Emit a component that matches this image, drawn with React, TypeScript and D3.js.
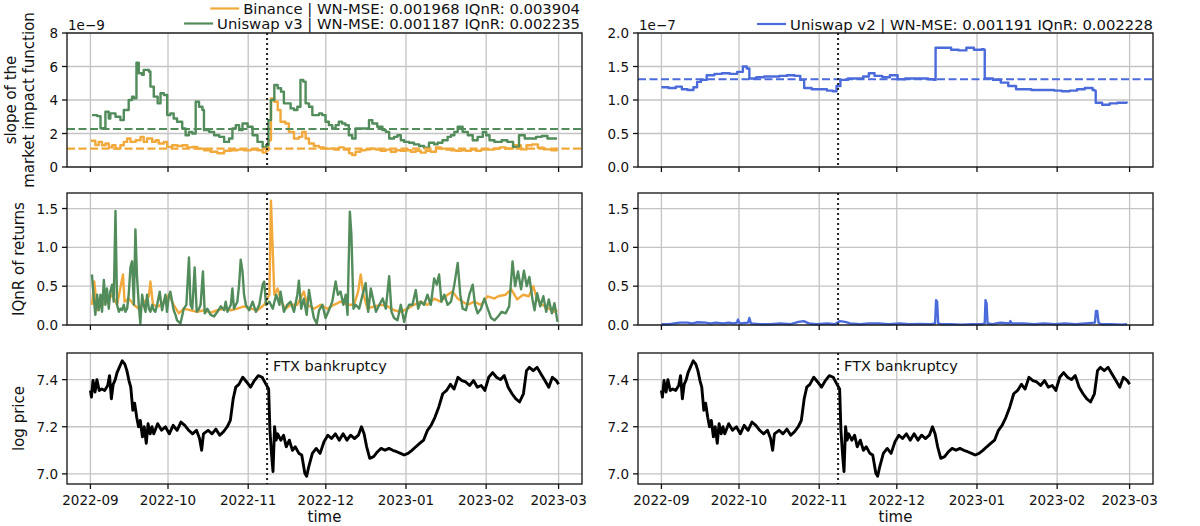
import React, { useEffect, useRef } from "react";
import * as d3 from "d3";

// ---------------- data (day offsets from 2022-09-01, values) ----------------
const START = Date.UTC(2022, 8, 1);
const DAY = 86400000;
const monthTicks = ["2022-09", "2022-10", "2022-11", "2022-12", "2023-01", "2023-02", "2023-03"];
const ftxDay = 68.3;
const ftxLabel = "FTX bankruptcy";

const binanceLabel = "Binance | WN-MSE: 0.001968 IQnR: 0.003904";
const uniV3Label = "Uniswap v3 | WN-MSE: 0.001187 IQnR: 0.002235";
const uniV2Label = "Uniswap v2 | WN-MSE: 0.001191 IQnR: 0.002228";

const binanceMean = 1.1; // 1e-9
const uniV3Mean = 2.27; // 1e-9
const uniV2Mean = 1.31; // 1e-7

const slopeTicksLeft = [0, 2, 4, 6, 8];
const slopeTicksRight = [0, 0.5, 1.0, 1.5, 2.0];
const iqnrTicks = [0, 0.5, 1.0, 1.5];
const priceTicks = [7.0, 7.2, 7.4];

const uniV3Slope: [number, number][] = [
  [0.6, 3.1], [2.6, 3.04], [3.9, 2.31], [5.2, 2.3], [5.8, 3.3], [7.1, 2.9], [7.7, 3.2], [9.7, 3.0], [11.6, 2.8], [12.9, 3.4],
  [14.8, 4.0], [16.1, 4.2], [16.8, 4.1], [17.8, 6.23], [18.7, 5.6], [20.0, 5.5], [20.6, 5.8], [22.6, 5.7], [23.2, 4.8], [24.5, 4.2],
  [26.0, 3.8], [27.1, 4.4], [28.4, 4.3], [29.7, 3.1], [30.9, 3.2], [32.2, 2.9], [33.5, 2.7], [35.5, 2.3], [36.8, 1.9], [38.1, 2.1],
  [39.4, 2.0], [40.7, 3.9], [42.0, 3.6], [43.3, 3.4], [43.9, 2.2], [45.9, 2.1], [47.8, 1.9], [49.8, 1.8], [51.7, 1.5], [53.6, 1.7],
  [54.9, 2.3], [56.2, 2.5], [57.5, 2.2], [58.8, 2.6], [60.8, 2.4], [62.7, 1.9], [64.6, 1.5], [66.6, 1.17], [67.9, 1.3], [68.8, 2.8],
  [69.8, 4.0], [71.1, 4.9], [72.4, 4.7], [73.7, 4.5], [74.8, 3.8], [76.1, 3.8], [77.4, 3.5], [78.7, 3.4], [80.0, 3.6], [81.2, 5.2],
  [82.3, 5.1], [83.2, 3.8], [84.5, 3.6], [85.8, 3.1], [87.1, 3.1], [88.4, 3.2], [89.6, 3.1], [90.9, 2.7], [92.2, 2.5], [93.5, 2.3],
  [94.8, 2.5], [96.0, 2.7], [97.3, 2.6], [98.6, 2.5], [99.9, 1.9], [101.2, 1.7], [102.5, 2.3], [104.4, 2.3], [106.4, 2.3], [107.7, 2.8],
  [109.0, 2.6], [110.9, 2.4], [112.9, 2.2], [114.2, 2.1], [115.5, 1.7], [117.4, 1.8], [118.7, 1.9], [120.0, 1.6], [121.3, 1.5], [123.2, 1.45],
  [125.1, 1.35], [127.1, 1.25], [129.0, 1.15], [130.9, 1.45], [132.9, 1.35], [134.2, 1.45], [136.1, 1.6], [138.1, 1.8], [139.4, 1.9], [140.7, 2.1],
  [142.0, 2.4], [143.9, 2.1], [145.9, 1.9], [147.8, 1.6], [149.7, 1.8], [151.7, 2.1], [153.0, 1.9], [154.3, 1.6], [156.2, 1.5], [158.2, 1.5],
  [159.0, 1.6], [161.2, 1.5], [163.4, 1.2], [165.7, 1.9], [167.9, 1.7], [170.1, 1.7], [172.3, 1.8], [174.5, 1.85], [176.7, 1.7], [179.6, 1.7],
  [180.4, 1.7],
];

const binanceSlope: [number, number][] = [
  [0.2, 1.57], [1.9, 1.31], [3.2, 1.5], [4.5, 1.3], [5.8, 1.4], [7.1, 1.17], [8.4, 1.3], [9.7, 1.1], [11.6, 1.3], [12.9, 1.5],
  [14.2, 1.7], [15.5, 1.5], [17.5, 1.6], [19.4, 1.8], [20.6, 1.5], [21.9, 1.7], [23.9, 1.5], [25.2, 1.6], [26.4, 1.4], [28.4, 1.5],
  [29.7, 1.2], [31.6, 1.3], [33.6, 1.25], [35.5, 1.3], [37.5, 1.17], [39.4, 1.2], [41.3, 1.1], [43.9, 1.0], [46.5, 0.91], [49.1, 0.82],
  [51.7, 0.97], [54.3, 1.0], [56.8, 1.04], [59.4, 1.0], [62.0, 1.04], [64.6, 1.0], [66.6, 0.86], [67.9, 1.0], [68.8, 1.6], [69.8, 4.1],
  [71.1, 3.9], [72.4, 3.4], [73.5, 2.7], [75.4, 2.6], [76.7, 2.1], [78.7, 1.7], [80.6, 1.8], [81.9, 2.1], [83.2, 1.7], [84.5, 1.4],
  [86.4, 1.25], [88.4, 1.17], [90.3, 1.1], [92.2, 1.1], [94.2, 1.04], [96.1, 1.17], [98.0, 1.04], [100.0, 0.82], [101.2, 0.72], [102.5, 0.91],
  [104.4, 1.0], [106.4, 1.04], [108.3, 1.1], [110.3, 1.04], [112.2, 0.97], [114.2, 1.04], [116.1, 0.91], [118.1, 1.0], [120.0, 0.97], [121.9, 1.0],
  [123.9, 0.91], [125.8, 0.97], [127.7, 0.86], [129.7, 0.97], [131.6, 0.91], [133.6, 1.17], [135.5, 1.1], [137.5, 1.04], [139.4, 1.0], [141.3, 0.97],
  [143.3, 1.0], [145.2, 0.97], [147.2, 1.04], [149.1, 0.97], [151.0, 1.04], [153.6, 1.04], [156.2, 1.1], [158.2, 1.17], [160.5, 1.1], [163.4, 1.3],
  [166.4, 1.05], [168.6, 1.3], [170.8, 1.35], [173.0, 1.15], [175.3, 1.05], [178.2, 1.0], [180.4, 0.95],
];

const uniV2Slope: [number, number][] = [
  [0, 1.19], [2.7, 1.18], [5.6, 1.2], [7.9, 1.16], [10.1, 1.15], [12.4, 1.19], [13.8, 1.27], [15.3, 1.3], [17.5, 1.37], [20.5, 1.39],
  [23.4, 1.4], [26.4, 1.39], [29.3, 1.42], [31.5, 1.5], [33.0, 1.47], [34.0, 1.32], [36.7, 1.34], [39.7, 1.35], [42.6, 1.35], [45.6, 1.36],
  [48.5, 1.37], [51.5, 1.36], [53.7, 1.3], [55.2, 1.18], [58.1, 1.16], [61.1, 1.16], [64.0, 1.14], [66.2, 1.13], [67.7, 1.21], [69.2, 1.3],
  [72.1, 1.32], [75.1, 1.32], [78.0, 1.35], [80.2, 1.4], [82.4, 1.36], [85.4, 1.34], [88.3, 1.37], [91.3, 1.31], [94.2, 1.32], [97.2, 1.32],
  [100.1, 1.32], [103.1, 1.31], [105.3, 1.3], [106.0, 1.78], [109.0, 1.78], [112.0, 1.75], [114.9, 1.74], [117.9, 1.78], [120.8, 1.75], [123.8, 1.76],
  [124.6, 1.75], [125.0, 1.32], [128.2, 1.3], [131.2, 1.26], [134.1, 1.21], [137.1, 1.16], [140.0, 1.16], [143.0, 1.15], [145.9, 1.15], [148.9, 1.15],
  [151.9, 1.14], [154.8, 1.13], [157.8, 1.14], [160.7, 1.16], [163.7, 1.18], [166.7, 1.15], [167.5, 1.14], [167.9, 0.96], [170.4, 0.93], [173.3, 0.95],
  [176.3, 0.96], [180.0, 0.95],
];

const uniV3Iqnr: [number, number][] = [
  [0.6, 0.65], [1.3, 0.35], [1.9, 0.13], [2.6, 0.39], [3.2, 0.19], [3.9, 0.39], [4.5, 0.17], [5.2, 0.58], [5.8, 0.26], [6.4, 0.47],
  [7.1, 0.21], [7.7, 0.43], [8.4, 0.52], [9.0, 0.3], [9.7, 1.47], [10.3, 0.26], [11.0, 0.17], [11.6, 0.21], [12.2, 0.19], [12.9, 0.26],
  [13.5, 0.17], [14.2, 0.21], [14.8, 0.39], [15.5, 0.75], [16.1, 0.82], [16.8, 0.26], [17.4, 1.23], [18.0, 0.63], [18.7, 0.26], [19.3, 0.02],
  [20.0, 0.39], [20.6, 0.26], [21.3, 0.17], [21.9, 0.39], [22.6, 0.21], [23.2, 0.17], [23.9, 0.26], [24.5, 0.19], [25.1, 0.17], [25.8, 0.26],
  [26.8, 0.43], [27.7, 0.19], [29.0, 0.39], [29.6, 0.17], [30.3, 0.37], [30.9, 0.43], [31.6, 0.3], [32.2, 0.19], [32.9, 0.13], [33.5, 0.06],
  [34.8, 0.02], [36.1, 0.21], [37.1, 0.26], [38.1, 0.87], [38.7, 0.26], [39.4, 0.21], [40.3, 0.74], [41.1, 0.17], [42.0, 0.21], [42.6, 0.26],
  [43.5, 0.69], [44.2, 0.15], [45.2, 0.21], [46.5, 0.13], [47.8, 0.11], [49.1, 0.17], [50.4, 0.24], [51.7, 0.19], [52.3, 0.3], [53.0, 0.17],
  [54.3, 0.26], [54.9, 0.47], [55.5, 0.21], [56.8, 0.3], [57.5, 0.52], [58.1, 0.84], [58.8, 0.69], [59.4, 0.39], [60.1, 0.26], [61.4, 0.19],
  [62.7, 0.3], [64.0, 0.17], [65.3, 0.26], [66.6, 0.52], [67.2, 0.56], [67.9, 0.26], [69.2, 0.3], [70.5, 0.21], [71.8, 0.39], [73.1, 0.26],
  [73.5, 0.43], [74.8, 0.17], [76.1, 0.26], [77.4, 0.3], [78.7, 0.17], [80.0, 0.39], [80.6, 0.57], [81.5, 0.21], [82.5, 0.34], [83.6, 0.13],
  [84.5, 0.45], [85.4, 0.26], [86.4, 0.09], [87.5, 0.02], [88.4, 0.19], [89.7, 0.26], [90.9, 0.09], [92.2, 0.19], [93.5, 0.3], [94.8, 0.56],
  [95.7, 0.39], [96.7, 0.43], [97.8, 0.26], [98.7, 0.39], [99.4, 0.13], [100.3, 1.46], [100.9, 1.16], [101.7, 0.21], [102.6, 0.26], [103.9, 0.21],
  [105.2, 0.39], [106.4, 0.54], [107.4, 0.17], [108.4, 0.47], [109.5, 0.3], [110.4, 0.17], [111.7, 0.26], [113.0, 0.34], [114.2, 0.21], [115.5, 0.63],
  [116.4, 0.17], [117.4, 0.09], [118.7, 0.06], [120.0, 0.26], [121.3, 0.04], [122.3, 0.19], [123.2, 0.26], [124.5, 0.26], [125.8, 0.45], [126.7, 0.21],
  [127.7, 0.3], [129.0, 0.26], [130.3, 0.39], [131.6, 0.26], [132.9, 0.6], [133.9, 0.52], [134.8, 0.65], [135.7, 0.3], [136.8, 0.39], [138.1, 0.26],
  [139.4, 0.3], [140.7, 0.52], [142.0, 0.8], [143.0, 0.39], [143.9, 0.21], [145.2, 0.19], [146.5, 0.39], [147.8, 0.52], [148.7, 0.26], [149.7, 0.15],
  [151.0, 0.21], [152.3, 0.34], [153.6, 0.21], [154.9, 0.09], [156.2, 0.06], [157.6, 0.11], [159.0, 0.17], [160.5, 0.15], [161.9, 0.24], [163.2, 0.82],
  [164.2, 0.5], [165.3, 0.69], [166.5, 0.46], [167.6, 0.7], [168.7, 0.5], [169.7, 0.62], [170.9, 0.33], [171.7, 0.19], [172.7, 0.41], [173.9, 0.24],
  [175.1, 0.37], [176.2, 0.17], [177.2, 0.33], [178.4, 0.15], [179.4, 0.28], [180.6, 0.04],
];

const binanceIqnr: [number, number][] = [
  [0.6, 0.26], [1.5, 0.56], [2.6, 0.19], [4.5, 0.26], [6.4, 0.3], [8.4, 0.39], [10.3, 0.26], [12.6, 0.65], [13.2, 0.3], [14.8, 0.34],
  [16.8, 0.26], [18.7, 0.21], [20.6, 0.28], [22.6, 0.37], [23.2, 0.56], [24.2, 0.26], [26.4, 0.24], [28.4, 0.3], [30.3, 0.39], [32.2, 0.26],
  [34.2, 0.15], [36.1, 0.21], [38.7, 0.19], [41.3, 0.17], [43.9, 0.19], [46.5, 0.16], [49.1, 0.19], [51.7, 0.21], [54.3, 0.19], [56.8, 0.21],
  [59.4, 0.24], [62.0, 0.21], [64.6, 0.19], [67.2, 0.26], [69.2, 0.39], [69.8, 1.6], [70.5, 0.95], [71.1, 0.39], [72.4, 0.47], [73.7, 0.3],
  [75.4, 0.21], [77.4, 0.26], [80.0, 0.26], [82.5, 0.43], [83.9, 0.26], [86.4, 0.21], [89.0, 0.26], [91.6, 0.21], [94.2, 0.26], [96.7, 0.3],
  [99.4, 0.26], [101.9, 0.26], [103.5, 0.43], [104.5, 0.65], [105.6, 0.39], [107.1, 0.21], [109.7, 0.24], [112.3, 0.26], [114.9, 0.24], [117.4, 0.19],
  [120.0, 0.17], [122.6, 0.21], [125.1, 0.26], [127.7, 0.3], [130.3, 0.26], [132.9, 0.34], [135.4, 0.3], [138.1, 0.39], [140.0, 0.43], [142.0, 0.34],
  [143.9, 0.3], [145.8, 0.26], [148.4, 0.3], [151.0, 0.26], [153.6, 0.37], [156.2, 0.34], [157.6, 0.37], [160.5, 0.39], [162.7, 0.46], [165.0, 0.33],
  [167.3, 0.39], [169.5, 0.37], [171.2, 0.5], [172.7, 0.33], [174.6, 0.26], [176.8, 0.22], [179.1, 0.17], [180.6, 0.19],
];

const uniV2Iqnr: [number, number][] = [
  [0, 0.01], [3, 0.01], [5, 0.02], [7, 0.03], [10, 0.03], [12, 0.02], [14, 0.035], [17, 0.03], [19, 0.02], [21, 0.03],
  [24, 0.02], [26, 0.03], [28, 0.02], [29.2, 0.03], [29.6, 0.07], [30.2, 0.02], [33.5, 0.03], [34, 0.09], [34.6, 0.02], [38, 0.01],
  [42, 0.01], [46, 0.02], [50, 0.01], [53, 0.04], [55, 0.05], [57, 0.02], [60, 0.01], [64, 0.02], [67, 0.01], [69, 0.05],
  [71, 0.04], [73, 0.02], [77, 0.01], [80, 0.02], [84, 0.02], [88, 0.01], [92, 0.02], [96, 0.01], [100, 0.015], [104, 0.01],
  [105.8, 0.02], [106.2, 0.32], [106.6, 0.3], [107.0, 0.02], [108, 0.01], [112, 0.01], [116, 0.005], [120, 0.01], [124, 0.01], [125.0, 0.02],
  [125.3, 0.32], [125.7, 0.28], [126.1, 0.02], [128, 0.01], [131, 0.03], [134.5, 0.02], [134.9, 0.05], [135.4, 0.02], [140, 0.02], [144, 0.01],
  [148, 0.02], [152, 0.01], [156, 0.02], [160, 0.01], [164, 0.02], [167.6, 0.03], [168.0, 0.18], [168.5, 0.18], [169, 0.03], [170, 0.01],
  [174, 0.01], [178, 0.005], [180, 0.01],
];

const logPrice: [number, number][] = [
  [0, 7.354], [0.4, 7.326], [1, 7.396], [1.8, 7.347], [2.5, 7.4], [3.4, 7.354], [4.4, 7.36], [5.5, 7.354], [6.7, 7.375], [7.4, 7.417],
  [8.1, 7.319], [8.8, 7.38], [9.6, 7.4], [10.3, 7.43], [11.1, 7.45], [12.3, 7.48], [13.3, 7.466], [14.1, 7.438], [14.9, 7.396], [15.6, 7.368],
  [16.4, 7.27], [17.1, 7.3], [17.9, 7.24], [18.6, 7.2], [19.3, 7.227], [20.1, 7.157], [20.8, 7.2], [21.6, 7.13], [22.3, 7.213], [23.1, 7.17],
  [23.8, 7.2], [24.5, 7.17], [26, 7.213], [27.5, 7.185], [29, 7.2], [30.5, 7.17], [32, 7.206], [33.5, 7.185], [35, 7.22], [36.5, 7.206],
  [38, 7.185], [39.5, 7.17], [41, 7.185], [42.2, 7.15], [43, 7.1], [43.7, 7.17], [45.5, 7.185], [47, 7.17], [48.5, 7.19], [50, 7.164],
  [51.4, 7.178], [52.9, 7.2], [54.1, 7.227], [55.2, 7.319], [56.2, 7.368], [57.4, 7.38], [58.9, 7.41], [60.4, 7.39], [61.9, 7.368], [63.4, 7.396],
  [64.9, 7.417], [66.4, 7.41], [67.9, 7.38], [68.9, 7.36], [69.4, 7.185], [70.1, 7.073], [70.6, 7.01], [71.2, 7.2], [71.8, 7.143], [72.4, 7.17],
  [73.6, 7.143], [74.7, 7.164], [75.7, 7.115], [76.9, 7.143], [78.1, 7.1], [79.2, 7.115], [80.6, 7.087], [81.7, 7.08], [82.9, 7.003], [83.6, 6.99],
  [84.4, 7.03], [85.8, 7.087], [87.3, 7.108], [88.8, 7.087], [90.3, 7.136], [91.8, 7.164], [93.2, 7.15], [94.7, 7.17], [96.2, 7.143], [97.7, 7.17],
  [99.2, 7.143], [100.6, 7.164], [102.1, 7.15], [103.6, 7.164], [104.8, 7.2], [105.8, 7.17], [106.8, 7.115], [108, 7.066], [109.5, 7.073], [111, 7.094],
  [112.4, 7.108], [113.9, 7.1], [115.4, 7.108], [116.9, 7.1], [118.4, 7.094], [119.9, 7.087], [121.3, 7.08], [122.8, 7.087], [124.3, 7.1], [125.8, 7.115],
  [127.3, 7.129], [128.8, 7.143], [130.3, 7.185], [131.7, 7.206], [133.2, 7.24], [134.7, 7.284], [136.2, 7.34], [137.7, 7.354], [139.2, 7.38], [140.6, 7.36],
  [142.1, 7.41], [143.6, 7.396], [145.1, 7.39], [146.6, 7.375], [148.1, 7.396], [149.6, 7.368], [151.1, 7.375], [152.5, 7.354], [154, 7.41], [155.5, 7.43],
  [157, 7.41], [158.5, 7.4], [160, 7.417], [161.5, 7.368], [163, 7.34], [164.4, 7.319], [165.9, 7.305], [167.4, 7.34], [168.6, 7.438], [169.7, 7.452],
  [171.2, 7.438], [172.7, 7.452], [174.2, 7.424], [175.7, 7.396], [177.2, 7.368], [178.6, 7.41], [180.1, 7.396], [181, 7.38],
];

// ---------------- styling ----------------
const COL_ORANGE = "#f2a93b";
const COL_GREEN = "#528c5b";
const COL_BLUE = "#4b6bdb";
const GRID = "#c4c4c4";
const FONT = "DejaVu Sans, Liberation Sans, sans-serif";

const W = 1200;
const H = 526;
const COLS = [
  { x0: 67, x1: 582 },
  { x0: 638, x1: 1153 },
];
const ROWS = [
  { y0: 33, y1: 167 },
  { y0: 193, y1: 325 },
  { y0: 353, y1: 484 },
];

const toDate = (d: number) => new Date(START + d * DAY);

export default function App() {
  const ref = useRef<SVGSVGElement | null>(null);

  useEffect(() => {
    const svg = d3.select(ref.current);
    svg.selectAll("*").remove();

    const monthDates = monthTicks.map((m) => new Date(m + "-01T00:00:00Z"));
    const xDomain = [toDate(-9.05), toDate(190.05)];

    type Series = { data: [number, number][]; color: string; width: number; step?: boolean };
    type Panel = {
      col: number;
      row: number;
      yDomain: [number, number];
      yTicks: number[];
      yFmt: (v: number) => string;
      series: Series[];
      means?: { v: number; color: string }[];
      offset?: string;
      xLabels?: boolean;
      ftxText?: boolean;
    };

    const fmt1 = d3.format(".1f");
    const fmt0 = d3.format("d");

    const panels: Panel[] = [
      {
        col: 0, row: 0, yDomain: [0, 8], yTicks: slopeTicksLeft, yFmt: fmt0,
        series: [
          { data: binanceSlope, color: COL_ORANGE, width: 2.4, step: true },
          { data: uniV3Slope, color: COL_GREEN, width: 2.4, step: true },
        ],
        means: [
          { v: binanceMean, color: COL_ORANGE },
          { v: uniV3Mean, color: COL_GREEN },
        ],
        offset: "1e\u22129",
      },
      {
        col: 1, row: 0, yDomain: [0, 2], yTicks: slopeTicksRight, yFmt: fmt1,
        series: [{ data: uniV2Slope, color: COL_BLUE, width: 2.4, step: true }],
        means: [{ v: uniV2Mean, color: COL_BLUE }],
        offset: "1e\u22127",
      },
      {
        col: 0, row: 1, yDomain: [0, 1.7], yTicks: iqnrTicks, yFmt: fmt1,
        series: [
          { data: binanceIqnr, color: COL_ORANGE, width: 2.4 },
          { data: uniV3Iqnr, color: COL_GREEN, width: 2.4 },
        ],
      },
      {
        col: 1, row: 1, yDomain: [0, 1.7], yTicks: iqnrTicks, yFmt: fmt1,
        series: [{ data: uniV2Iqnr, color: COL_BLUE, width: 2.4 }],
      },
      {
        col: 0, row: 2, yDomain: [6.957, 7.513], yTicks: priceTicks, yFmt: fmt1,
        series: [{ data: logPrice, color: "#000", width: 2.9 }],
        xLabels: true, ftxText: true,
      },
      {
        col: 1, row: 2, yDomain: [6.957, 7.513], yTicks: priceTicks, yFmt: fmt1,
        series: [{ data: logPrice, color: "#000", width: 2.9 }],
        xLabels: true, ftxText: true,
      },
    ];

    panels.forEach((p) => {
      const c = COLS[p.col];
      const r = ROWS[p.row];
      const x = d3.scaleUtc().domain(xDomain).range([c.x0, c.x1]);
      const y = d3.scaleLinear().domain(p.yDomain).range([r.y1, r.y0]);
      const g = svg.append("g");

      // grid
      g.selectAll(".gx").data(monthDates).enter().append("line")
        .attr("x1", (d) => x(d)).attr("x2", (d) => x(d))
        .attr("y1", r.y0).attr("y2", r.y1)
        .attr("stroke", GRID).attr("stroke-width", 1.3);
      g.selectAll(".gy").data(p.yTicks).enter().append("line")
        .attr("x1", c.x0).attr("x2", c.x1)
        .attr("y1", (d) => y(d)).attr("y2", (d) => y(d))
        .attr("stroke", GRID).attr("stroke-width", 1.3);

      // series
      p.series.forEach((s) => {
        const line = d3.line<[number, number]>()
          .x((d) => x(toDate(d[0])))
          .y((d) => y(d[1]))
          .curve(s.step ? d3.curveStepAfter : d3.curveLinear);
        g.append("path").attr("d", line(s.data) || "")
          .attr("fill", "none").attr("stroke", s.color)
          .attr("stroke-width", s.width).attr("stroke-linejoin", "round");
      });

      // means
      (p.means || []).forEach((m) => {
        g.append("line").attr("x1", c.x0).attr("x2", c.x1)
          .attr("y1", y(m.v)).attr("y2", y(m.v))
          .attr("stroke", m.color).attr("stroke-width", 2.2)
          .attr("stroke-dasharray", "8,3.5");
      });

      // FTX line
      const fx = x(toDate(ftxDay));
      g.append("line").attr("x1", fx).attr("x2", fx).attr("y1", r.y0).attr("y2", r.y1)
        .attr("stroke", "#222").attr("stroke-width", 2).attr("stroke-dasharray", "2,3");
      if (p.ftxText) {
        g.append("text").attr("x", fx + 6).attr("y", r.y0 + 13)
          .attr("dominant-baseline", "central")
          .attr("font-family", FONT).attr("font-size", 14.5).attr("fill", "#111")
          .text(ftxLabel);
      }

      // spines
      g.append("rect").attr("x", c.x0).attr("y", r.y0)
        .attr("width", c.x1 - c.x0).attr("height", r.y1 - r.y0)
        .attr("fill", "none").attr("stroke", "#111").attr("stroke-width", 1.3);

      // y ticks
      p.yTicks.forEach((t) => {
        g.append("line").attr("x1", c.x0 - 5).attr("x2", c.x0)
          .attr("y1", y(t)).attr("y2", y(t)).attr("stroke", "#111").attr("stroke-width", 1.3);
        g.append("text").attr("x", c.x0 - 9).attr("y", y(t))
          .attr("text-anchor", "end").attr("dominant-baseline", "central")
          .attr("font-family", FONT).attr("font-size", 13.5).attr("fill", "#111")
          .text(p.yFmt(t));
      });

      // x ticks
      monthDates.forEach((d, i) => {
        g.append("line").attr("x1", x(d)).attr("x2", x(d))
          .attr("y1", r.y1).attr("y2", r.y1 + 5).attr("stroke", "#111").attr("stroke-width", 1.3);
        if (p.xLabels) {
          g.append("text").attr("x", x(d)).attr("y", r.y1 + 16)
            .attr("text-anchor", "middle").attr("dominant-baseline", "central")
            .attr("font-family", FONT).attr("font-size", 13.5).attr("fill", "#111")
            .text(monthTicks[i]);
        }
      });

      if (p.offset) {
        g.append("text").attr("x", c.x0 + 1).attr("y", r.y0 - 8)
          .attr("dominant-baseline", "central")
          .attr("font-family", FONT).attr("font-size", 13.5).attr("fill", "#111")
          .text(p.offset);
      }

      if (p.xLabels) {
        g.append("text").attr("x", (c.x0 + c.x1) / 2).attr("y", r.y1 + 33)
          .attr("text-anchor", "middle").attr("dominant-baseline", "central")
          .attr("font-family", FONT).attr("font-size", 15).attr("fill", "#111")
          .text("time");
      }
    });

    // y-axis labels (left column)
    const ylab = (txt: string, cx: number, cy: number) => {
      svg.append("text").attr("transform", `translate(${cx},${cy}) rotate(-90)`)
        .attr("text-anchor", "middle").attr("dominant-baseline", "central")
        .attr("font-family", FONT).attr("font-size", 15).attr("fill", "#111").text(txt);
    };
    const cyTop = (ROWS[0].y0 + ROWS[0].y1) / 2;
    ylab("slope of the", 11, cyTop);
    ylab("market impact function", 29, cyTop);
    ylab("IQnR of returns", 19, (ROWS[1].y0 + ROWS[1].y1) / 2);
    ylab("log price", 19, (ROWS[2].y0 + ROWS[2].y1) / 2);

    // legends
    const legendRow = (label: string, color: string, rightX: number, cy: number) => {
      const t = svg.append("text").attr("x", rightX).attr("y", cy)
        .attr("text-anchor", "end").attr("dominant-baseline", "central")
        .attr("font-family", FONT).attr("font-size", 14.8).attr("fill", "#111").text(label);
      const node = t.node() as SVGTextElement;
      const w = node.getComputedTextLength();
      const start = rightX - w;
      svg.append("line").attr("x1", start - 33).attr("x2", start - 4)
        .attr("y1", cy).attr("y2", cy).attr("stroke", color).attr("stroke-width", 2.2);
    };
    legendRow(binanceLabel, COL_ORANGE, 580, 8.5);
    legendRow(uniV3Label, COL_GREEN, 580, 23.5);
    legendRow(uniV2Label, COL_BLUE, 1153, 24);
  }, []);

  return (
    <svg
      ref={ref}
      width={W}
      height={H}
      viewBox={`0 0 ${W} ${H}`}
      style={{ position: "absolute", left: 0, top: 0, background: "#fff" }}
    />
  );
}
